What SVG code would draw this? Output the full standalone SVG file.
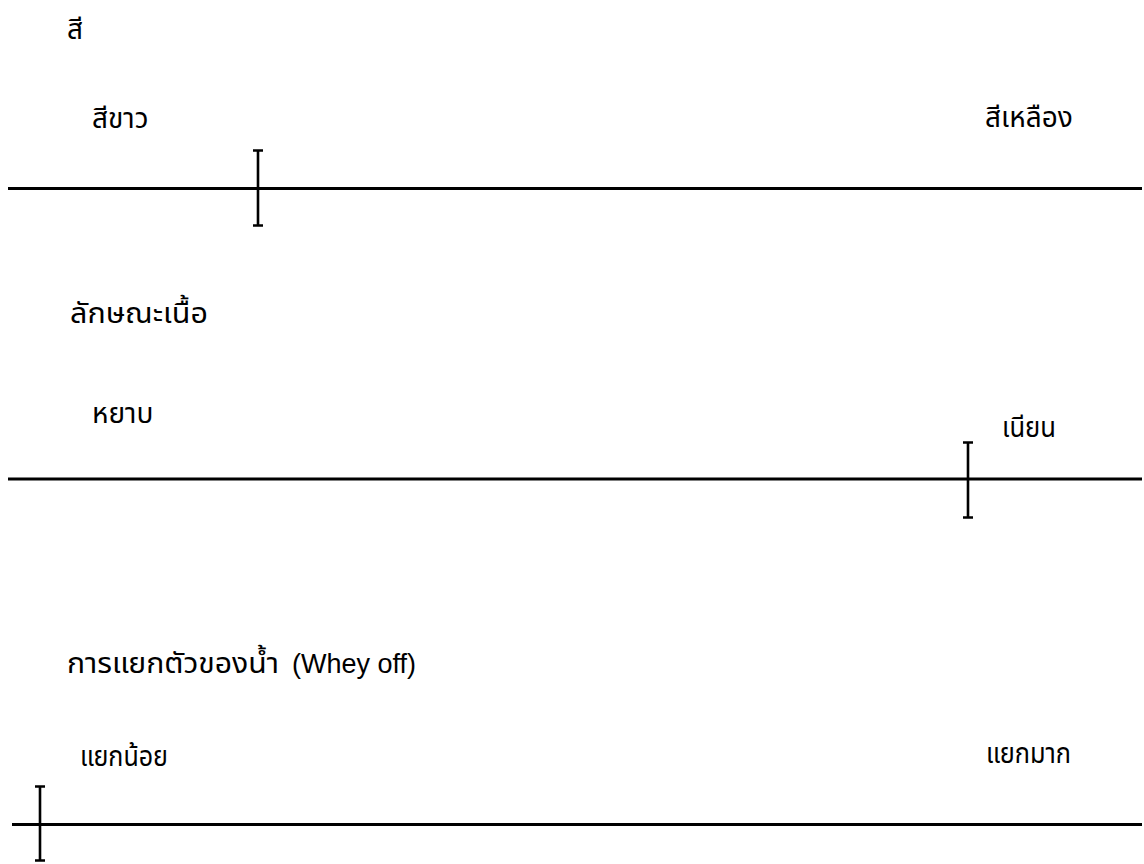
<svg xmlns="http://www.w3.org/2000/svg" width="1144" height="864" viewBox="0 0 1144 864">
<style>
.lbl{font-family:"Noto Sans Thai","Liberation Sans","DejaVu Sans",sans-serif;font-size:28px;fill:#000}
.en{font-family:"Liberation Sans",Arial,sans-serif;font-size:27px;fill:#000}
.axis{stroke:#000;stroke-width:2.8;fill:none}
.mark{stroke:#000;stroke-width:2.6;fill:none}
</style>
<rect width="1144" height="864" fill="#fff"/>
<g id="color">
<text class="lbl" x="67" y="39">สี</text>
<text class="lbl" x="92" y="128">สีขาว</text>
<text class="lbl" x="985" y="127">สีเหลือง</text>
</g>
<g id="texture">
<text class="lbl" x="70" y="323" textLength="138" lengthAdjust="spacingAndGlyphs">ลักษณะเนื้อ</text>
<text class="lbl" x="92" y="423">หยาบ</text>
<text class="lbl" x="1002" y="437" textLength="54" lengthAdjust="spacingAndGlyphs">เนียน</text>
</g>
<g id="wheyoff">
<text class="lbl" x="67" y="673" textLength="212" lengthAdjust="spacingAndGlyphs">การแยกตัวของน้ำ</text>
<text class="en" x="292" y="673">(Whey off)</text>
<text class="lbl" x="80" y="766" textLength="88" lengthAdjust="spacingAndGlyphs">แยกน้อย</text>
<text class="lbl" x="986" y="763" textLength="85" lengthAdjust="spacingAndGlyphs">แยกมาก</text>
</g>
<g id="connectors">
<line class="axis" x1="8" y1="188.5" x2="1142" y2="188.5"/>
<line class="axis" x1="8" y1="479" x2="1142" y2="479"/>
<line class="axis" x1="12" y1="824.5" x2="1142" y2="824.5"/>
<path class="mark" d="M258 150V226M253 150.5H263M253 225.5H263"/>
<path class="mark" d="M968 442V518M963 442.5H973M963 517.5H973"/>
<path class="mark" d="M40 786V861M35 786.5H45M35 860.5H45"/>
</g>
</svg>
